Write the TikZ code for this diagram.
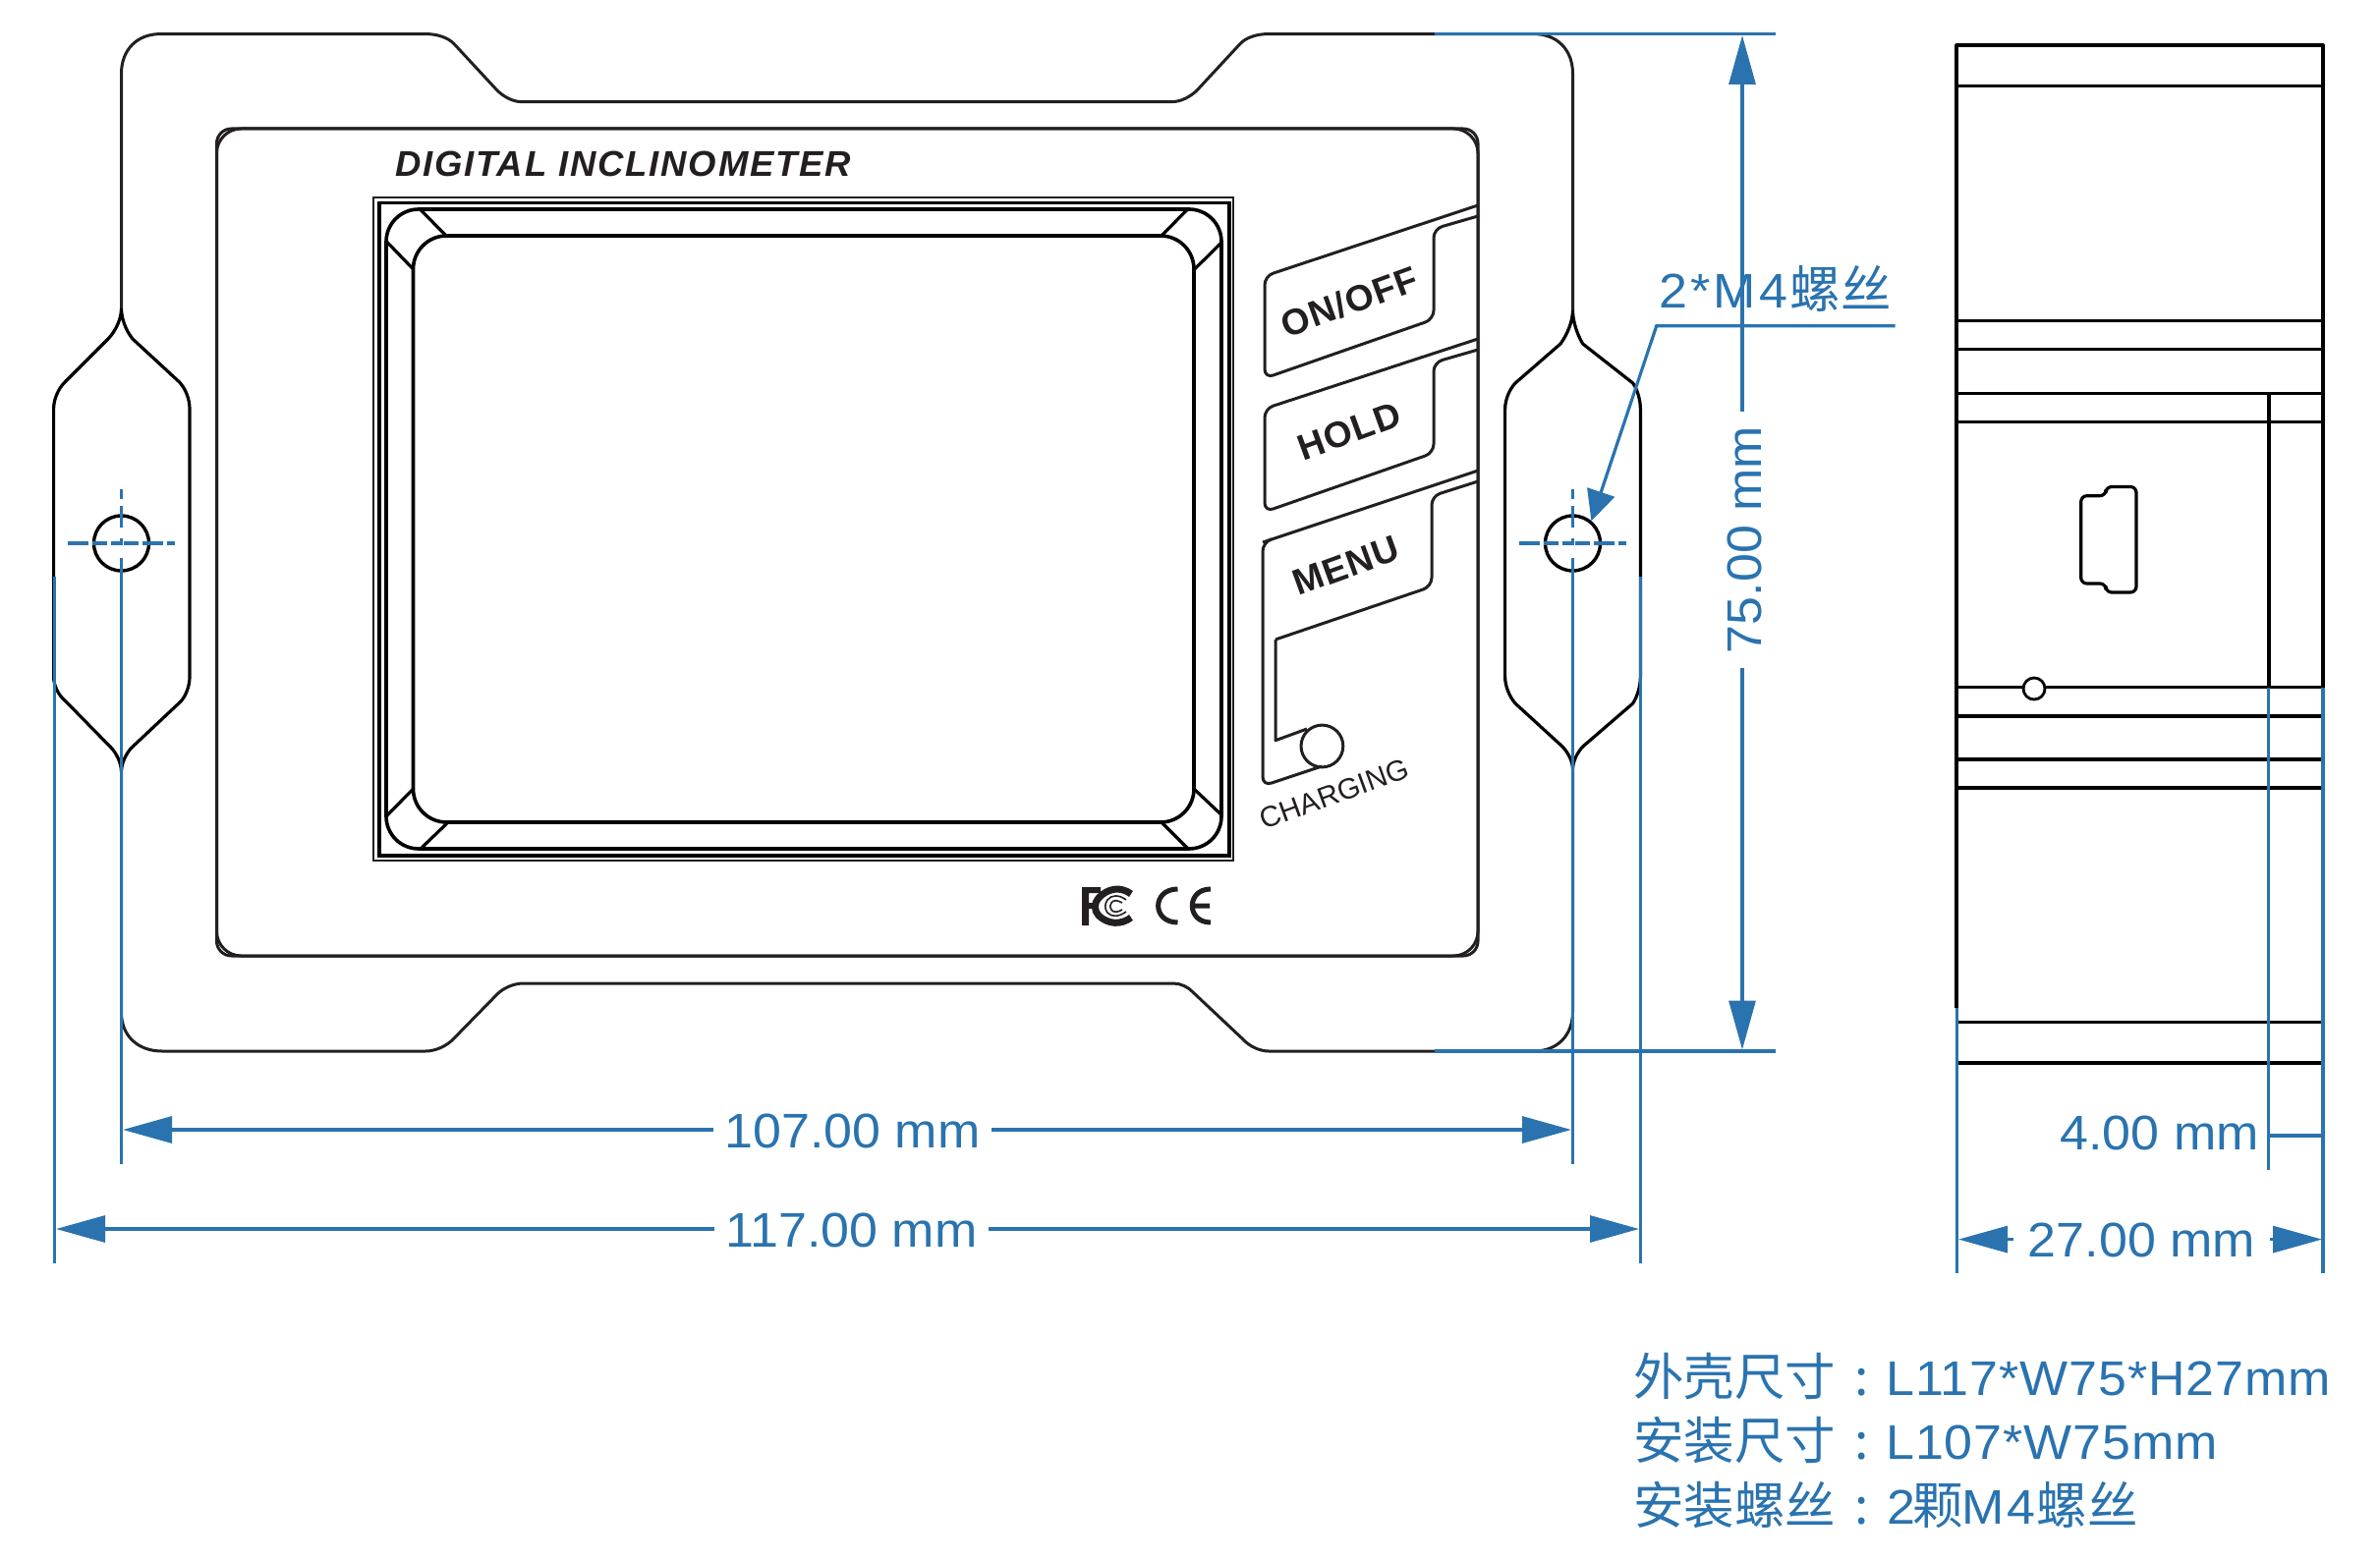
\documentclass[tikz,border=0pt]{standalone}
\usepackage{fontspec}
\setmainfont{Liberation Sans}
\newfontfamily\lat[FakeStretch=1.05]{Liberation Sans}
\newfontfamily\latwide[FakeStretch=1.05,LetterSpace=1.8]{Liberation Sans}
\newfontfamily\latwider[FakeStretch=1.05,LetterSpace=6.5]{Liberation Sans}
\newfontfamily\panelbold[LetterSpace=3]{Liberation Sans}
\newfontfamily\cjk{Noto Sans CJK SC}
\usetikzlibrary{calc,arrows.meta}
\definecolor{dimblue}{HTML}{2A73AF}
\definecolor{ink}{HTML}{231F20}
\newcommand{\crv}[3]{ .. controls ($(#1)!.6!(#2)$) and ($(#3)!.6!(#2)$) .. (#3)}
\newcommand{\dimfont}{\lat\fontsize{49.5}{55}\selectfont}
\newcommand{\specfont}{\latwide\fontsize{49.5}{55}\selectfont}
\newcommand{\widefont}{\latwider\fontsize{49.5}{55}\selectfont}
\newcommand{\cjkfont}{\cjk\fontsize{51.5}{55}\selectfont}
\tikzset{
  x=1pt,y=-1pt,
  body/.style={draw=ink,line width=3pt,line join=round},
  blk/.style={draw=black,line width=3.2pt,line join=round},
  dimline/.style={draw=dimblue,line width=3.2pt},
  tipped/.style={dimline,-{Triangle[length=50pt,width=27pt,fill=dimblue]}},
  tippedrev/.style={dimline,{Triangle[length=50pt,width=27pt,fill=dimblue]}-},
  label/.style={text=dimblue,inner sep=0pt,font=\dimfont},
  cjklabel/.style={text=dimblue,inner sep=0pt,font=\cjkfont},
  btn/.style={text=ink,inner sep=0pt,font=\panelbold\bfseries\fontsize{37}{40}\selectfont,rotate=20},
}
\begin{document}
\begin{tikzpicture}
\useasboundingbox (0,0) rectangle (2422,1589);
% outer frame
\draw[body] (123.5,314) -- (123.5,75) \crv{123.5,75}{123.5,34.6}{163,34.6} -- (434,34.6)
  \crv{434,34.6}{452.7,34.6}{462,44.6} -- (505,91) \crv{505,91}{516.7,103.6}{530.6,103.6}
  -- (1193,103.6) \crv{1193,103.6}{1207,103.6}{1219,91} -- (1262,44.6)
  \crv{1262,44.6}{1271,34.6}{1290,34.6} -- (1561,34.6) \crv{1561,34.6}{1600.5,34.6}{1600.5,75} -- (1600.5,316);
\draw[body] (123.5,786) -- (123.5,1030.6) \crv{123.5,1030.6}{123.5,1070}{165,1070} -- (433,1070)
  \crv{433,1070}{450,1070}{462,1057} -- (506,1012) \crv{506,1012}{517,1001}{532.6,1001}
  -- (1194,1001) \crv{1194,1001}{1206,1001}{1214,1010} -- (1265,1058)
  \crv{1265,1058}{1276,1070}{1291,1070} -- (1561,1070) \crv{1561,1070}{1600.5,1070}{1600.5,1030} -- (1600.5,783);
% left lug
\draw[blk] (123.5,314) \crv{123.5,314}{123.5,331}{110,345} -- (66,389) \crv{66,389}{54.6,400.4}{54.6,416}
  -- (54.6,689) \crv{54.6,689}{54.6,704}{67,714} -- (113,761) \crv{113,761}{123.5,772}{123.5,786}
  \crv{123.5,786}{123.5,772}{134,761} -- (184,714) \crv{184,714}{193,704}{193,689}
  -- (193,416) \crv{193,416}{193,400}{182.6,389} -- (135,345) \crv{135,345}{123.5,331}{123.5,314};
% right lug
\draw[blk] (1600.5,316) \crv{1600.5,316}{1600.5,333}{1588,350} -- (1542,390) \crv{1542,390}{1531.6,401}{1531.6,416.6}
  -- (1531.6,689) \crv{1531.6,689}{1531.6,704}{1542,716} -- (1590,760) \crv{1590,760}{1600.5,771}{1600.5,783}
  \crv{1600.5,783}{1600.5,771}{1610.7,760} -- (1661.7,716) \crv{1661.7,716}{1669.4,704}{1669.4,689}
  -- (1669.4,416.6) \crv{1669.4,416.6}{1669.4,401}{1661.7,390} -- (1610.7,350) \crv{1610.7,350}{1600.5,333}{1600.5,316};
% panel
\draw[body,rounded corners=25pt] (220.5,131) rectangle (1504,973);
\draw[body,rounded corners=15pt] (220.5,131) rectangle (1504,973);
% screen
\draw[draw=ink,line width=2.2pt] (380,201) rectangle (1255,876);
\draw[draw=black,line width=3.4pt] (386,206.5) rectangle (1251,871);
\draw[blk,line width=3.6pt,rounded corners=33pt] (393,213) rectangle (1243,864);
\draw[blk,line width=3.6pt,rounded corners=34pt] (420.5,240) rectangle (1215,837);
\draw[blk] (427.5,213) -- (454,240) (394,246.5) -- (420.5,274);
\draw[blk] (1208.5,213) -- (1182,240) (1243,247) -- (1215,274.6);
\draw[blk] (394,830) -- (420.5,803) (428,864) -- (456,837);
\draw[blk] (1243,829.5) -- (1215,803) (1209,864) -- (1182,837);
% buttons
\draw[body,rounded corners=9pt] (1504,209) -- (1287,281) -- (1287,385) -- (1459,325) -- (1459,233) -- (1504,220);
\draw[body,rounded corners=9pt] (1504,345) -- (1287,416) -- (1287,521) -- (1459,461) -- (1459,369) -- (1504,356);
\draw[body,rounded corners=9pt] (1504,479) -- (1285,552);
\draw[body,rounded corners=9pt] (1292,549.5) -- (1285,552) -- (1285,800) -- (1345,780);
\draw[body,rounded corners=9pt] (1504,490) -- (1457,505) -- (1457,597) -- (1298,651);
\draw[body] (1298,651) -- (1298,753.7) -- (1330,742);
\draw[body] (1345.4,759.5) circle (21.4);
\node[btn] (onoff) at (1373,307) {ON/OFF};
\node[btn] (hold) at (1373,439) {HOLD};
\node[btn] (menu) at (1370,576) {MENU};
\node[text=ink,inner sep=0pt,rotate=20,font=\fontsize{29.5}{32}\selectfont] (charging) at (1358,808) {CHARGING};
\node[text=ink,inner sep=0pt,anchor=base west,font=\panelbold\bfseries\itshape\fontsize{36.5}{40}\selectfont\addfontfeature{LetterSpace=5}] (title) at (402,179.5) {DIGITAL INCLINOMETER};
% logos
\fill[ink] (1101,903) rectangle (1108,942) (1101,903) rectangle (1120,909) (1101,919) rectangle (1117,925);
\draw[draw=ink,line width=7pt] (1151,910) \crv{1151,910}{1134,897}{1118,914} \crv{1118,914}{1110,923}{1118,932} \crv{1118,932}{1134,947}{1151,934};
\draw[draw=ink,line width=1.6pt] (1146,916) \crv{1146,916}{1134,907}{1127,916} \crv{1127,916}{1122,923}{1127,929} \crv{1127,929}{1134,937}{1146,928};
\draw[draw=ink,line width=1.6pt] (1142,919) \crv{1142,919}{1134,914}{1131,919} \crv{1131,919}{1128,923}{1131,926} \crv{1131,926}{1134,931}{1142,926};
\draw[draw=ink,line width=5pt] (1198.5,905) .. controls (1172,905) and (1172,939) .. (1198.5,939);
\draw[draw=ink,line width=5pt] (1232,905) .. controls (1207,905) and (1207,939) .. (1232,939) (1215,922) -- (1231,922);
% side view
\draw[blk,line width=4pt] (1991.3,1026) -- (1991.3,46.5) -- (2364,46.5) -- (2364,699.6);
\foreach \yy in {87.3,326.6,355.7,400.6,429.7,699.6,729,773,802,1040.6,1082}
  \draw[blk] (1991.3,\yy) -- (2364,\yy);
\draw[blk,line width=3.6pt] (2308.7,400.6) -- (2308.7,699.6);
\draw[blk,fill=white,line width=2.8pt] (2070,701) circle (11);
\draw[blk,rounded corners=6pt] (2143,504.7) -- (2117.7,504.7) -- (2117.7,594) -- (2143,594) -- (2143,603) -- (2174,603) -- (2174,495.5) -- (2143,495.5) -- cycle;
% hole symbols
\draw[blk,line width=3.4pt] (123.5,553) circle (28);
\draw[blk,line width=3.4pt] (1600.5,553) circle (28);
\foreach \cx in {123.5,1600.5}{
  \draw[dimline,dash pattern=on 21pt off 4pt on 15pt off 4pt on 9pt off 4pt on 15pt off 4pt on 21pt off 4pt on 9pt] (\cx-54.7,553) -- (\cx+54.7,553);
  \draw[dimline,dash pattern=on 10pt off 7pt on 22pt off 11pt on 7pt off 13pt] (\cx,498) -- (\cx,568);
}
% named dimension points
\coordinate (extA) at (55.5,587);   \coordinate (extAe) at (55.5,1286);
\coordinate (extB) at (123.5,568);  \coordinate (extBe) at (123.5,1185);
\coordinate (extC) at (1600.5,568); \coordinate (extCe) at (1600.5,1185);
\coordinate (extD) at (1669.4,587); \coordinate (extDe) at (1669.4,1286);
\coordinate (extT) at (1460,34.6);  \coordinate (extTe) at (1807,34.6);
\coordinate (extU) at (1460,1070);  \coordinate (extUe) at (1807,1070);
\coordinate (extL) at (1991.3,1026);\coordinate (extLe) at (1991.3,1296);
\coordinate (extM) at (2308.7,699.6);\coordinate (extMe) at (2308.7,1190.6);
\coordinate (extR) at (2364,699.6); \coordinate (extRe) at (2364,1296);
\foreach \a/\b in {extA/extAe,extB/extBe,extC/extCe,extD/extDe,extT/extTe,extU/extUe,extL/extLe,extM/extMe,extR/extRe}
  \draw[dimline] (\a) -- (\b);
% dimension labels
\node[label,anchor=base,inner xsep=11pt] (d107) at (867.5,1168) {107.00 mm};
\node[label,anchor=base,inner xsep=11pt] (d117) at (866.5,1269) {117.00 mm};
\node[label,anchor=base,rotate=90,inner xsep=15pt] (d75) at (1792,549.5) {75.00 mm};
\node[label,anchor=base east] (d4) at (2299,1170) {4.00 mm};
\node[label,anchor=base,inner xsep=14.5pt] (d27) at (2179.5,1279) {27.00 mm};
\coordinate (a107l) at (125,1150); \coordinate (a107r) at (1599,1150);
\coordinate (a117l) at (57,1251);  \coordinate (a117r) at (1668,1251);
\coordinate (a75t) at (1773,36);   \coordinate (a75b) at (1773,1068.5);
\coordinate (a27l) at (1993,1261.6); \coordinate (a27r) at (2363,1261.6);
\draw[tippedrev] (a107l) -- (a107l -| d107.west);
\draw[tipped] (a107l -| d107.east) -- (a107r);
\draw[tippedrev] (a117l) -- (a117l -| d117.west);
\draw[tipped] (a117l -| d117.east) -- (a117r);
\draw[tippedrev] (a75t) -- (a75t |- d75.east);
\draw[tipped] (a75t |- d75.west) -- (a75b);
\draw[tippedrev] (a27l) -- (a27l -| d27.west);
\draw[tipped] (a27l -| d27.east) -- (a27r);
\draw[dimline] (extM |- 0,1156) -- (extR |- 0,1156);
% leader
\coordinate (ldE) at (1928.6,331.8);
\coordinate (ldK) at (1685.7,331.8);
\coordinate (ldT) at (1619.4,530.4);
\draw[dimline,-{Triangle[length=31pt,width=29pt,fill=dimblue]}] (ldE) -- (ldK) -- (ldT);
\node[label,anchor=base west,font=\widefont] (screwa) at (1688,313) {2*M4};
\node[cjklabel,anchor=base east] (screwb) at (1925,313) {螺丝};
% spec text
\node[cjklabel,anchor=base west] (s1a) at (1662,1420) {外壳尺寸};
\node[cjklabel,anchor=base west] (s2a) at (1662,1485) {安装尺寸};
\node[cjklabel,anchor=base west] (s3a) at (1662,1551) {安装螺丝};
\foreach \yy/\nm in {1420/c1,1485/c2,1551/c3}
  \node[cjklabel,anchor=base] (\nm) at (1895,\yy) {:};
\node[label,anchor=base west,font=\specfont] (s1b) at (1919,1420) {L117*W75*H27mm};
\node[label,anchor=base west,font=\specfont] (s2b) at (1919,1485) {L107*W75mm};
\node[label,anchor=base west] (s3b) at (1920,1551) {2};
\node[cjklabel,anchor=base west] (s3c) at (1946,1551) {颗};
\node[label,anchor=base west,font=\widefont] (s3d) at (1996,1551) {M4};
\node[cjklabel,anchor=base east] (s3e) at (2176,1551) {螺丝};
\end{tikzpicture}
\end{document}
